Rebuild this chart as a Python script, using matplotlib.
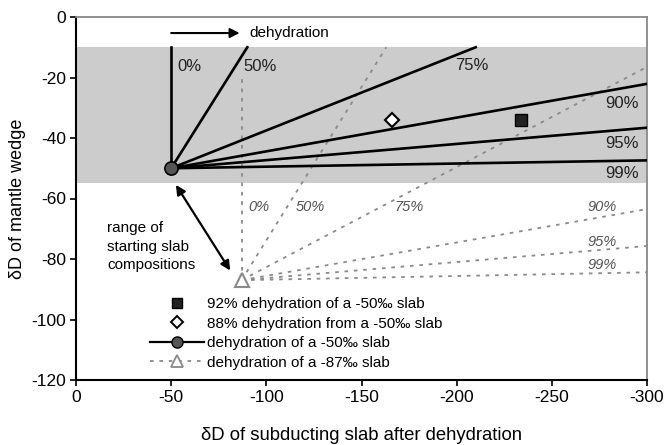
import matplotlib
matplotlib.use("Agg")
import matplotlib.pyplot as plt
from matplotlib.lines import Line2D

plt.rcParams['font.family'] = ['Liberation Sans', 'DejaVu Sans']
plt.rcParams['axes.unicode_minus'] = False

# Data
solid_start = (-50, -50)
solid_labels = ['0%', '50%', '75%', '90%', '95%', '99%']
solid_end_x = [-50, -90, -210, -300, -300, -300]
solid_end_y = [-10, -10, -10, -22.1, -36.6, -47.4]
solid_label_x = [-53, -88, -199, -278, -278, -278]
solid_label_y = [-16.5, -16.5, -16.0, -28.5, -41.7, -51.6]

dashed_start = (-87, -87)
dashed_labels = ['0%', '50%', '75%', '90%', '95%', '99%']
dashed_end_x = [-87, -163, -300, -300, -300, -300]
dashed_end_y = [-20, -10, -16.5, -63.5, -75.7, -84.4]
dashed_label_x = [-90.5, -115.5, -167.5, -269, -269, -269]
dashed_label_y = [-62.8, -62.8, -62.8, -62.8, -74.3, -82.0]

square_pt = (-234, -34)
diamond_pt = (-166, -34)
band_y = (-55, -10)

xticks = [0, -50, -100, -150, -200, -250, -300]
yticks = [-120, -100, -80, -60, -40, -20, 0]

fig = plt.figure(figsize=(6.69, 4.45), dpi=100)
ax = fig.add_axes([76/669, 65/445, 571/669, 363/445])

ax.axhspan(band_y[0], band_y[1], color='#cccccc', zorder=0, lw=0)

gray = '#8a8a8a'
for ex, ey in zip(dashed_end_x, dashed_end_y):
    ax.plot([dashed_start[0], ex], [dashed_start[1], ey], color=gray,
            lw=1.3, linestyle=(0, (2, 3.2)), zorder=2)
for lab, lx, ly in zip(dashed_labels, dashed_label_x, dashed_label_y):
    ax.text(lx, ly, lab, color='#555555', fontsize=10.5, style='italic',
            ha='left', va='center', zorder=3)

for ex, ey in zip(solid_end_x, solid_end_y):
    ax.plot([solid_start[0], ex], [solid_start[1], ey], color='black',
            lw=1.9, zorder=4)
for lab, lx, ly in zip(solid_labels, solid_label_x, solid_label_y):
    ax.text(lx, ly, lab, color='#222222', fontsize=12,
            ha='left', va='center', zorder=5)

ax.plot([dashed_start[0]], [dashed_start[1]], marker='^', ms=10,
        mfc='white', mec=gray, mew=1.5, zorder=6)
ax.plot([solid_start[0]], [solid_start[1]], marker='o', ms=9.5,
        mfc='#555555', mec='black', mew=1.2, zorder=6)
ax.plot([square_pt[0]], [square_pt[1]], marker='s', ms=8.5,
        mfc='#222222', mec='black', zorder=6)
ax.plot([diamond_pt[0]], [diamond_pt[1]], marker='D', ms=7,
        mfc='white', mec='black', mew=1.5, zorder=6)

# dehydration arrow
ax.annotate('', xy=(-86, -5.3), xytext=(-50, -5.3),
            arrowprops=dict(arrowstyle='-|>', color='black', lw=1.5,
                            mutation_scale=14, shrinkA=0, shrinkB=0))
ax.text(-91, -5.3, 'dehydration', fontsize=11, ha='left', va='center')

# range arrow
ax.annotate('', xy=(-52.5, -55.5), xytext=(-81, -83.8),
            arrowprops=dict(arrowstyle='<|-|>', color='black', lw=1.6,
                            mutation_scale=14, shrinkA=0, shrinkB=0))
ax.text(-16.3, -75.9, 'range of\nstarting slab\ncompositions', fontsize=11,
        ha='left', va='center', linespacing=1.42)

handles = [
    Line2D([], [], marker='s', ms=7, mfc='#222222', mec='black', ls='none'),
    Line2D([], [], marker='D', ms=6, mfc='white', mec='black', mew=1.4, ls='none'),
    Line2D([], [], marker='o', ms=8, mfc='#555555', mec='black', color='black', lw=1.6),
    Line2D([], [], marker='^', ms=8, mfc='white', mec=gray, mew=1.3, color=gray,
           lw=1.3, ls=(0, (2, 3.2))),
]
labels = ['92% dehydration of a -50‰ slab',
          '88% dehydration from a -50‰ slab',
          'dehydration of a -50‰ slab',
          'dehydration of a -87‰ slab']
ax.legend(handles, labels, loc='upper left', bbox_to_anchor=(0.13, 0.229),
          frameon=False, fontsize=11, handlelength=3.5, handletextpad=0.22,
          borderpad=0, borderaxespad=0, labelspacing=0.37)

ax.set_xlim(0, -300)
ax.set_ylim(-120, 0)
ax.set_xticks(xticks)
ax.set_yticks(yticks)
ax.set_xticklabels([str(v) for v in xticks])
ax.set_yticklabels([str(v) for v in yticks])
ax.tick_params(labelsize=12.5, direction='out', length=4, width=1.2, pad=3)
ax.set_xlabel('δD of subducting slab after dehydration', fontsize=13.3, labelpad=16)
ax.set_ylabel('δD of mantle wedge', fontsize=13, labelpad=4)

for s in ['left', 'bottom']:
    ax.spines[s].set_linewidth(1.5)
    ax.spines[s].set_color('black')
for s in ['top', 'right']:
    ax.spines[s].set_linewidth(1.3)
    ax.spines[s].set_color('#888888')

fig.savefig('out.png', dpi=100)
